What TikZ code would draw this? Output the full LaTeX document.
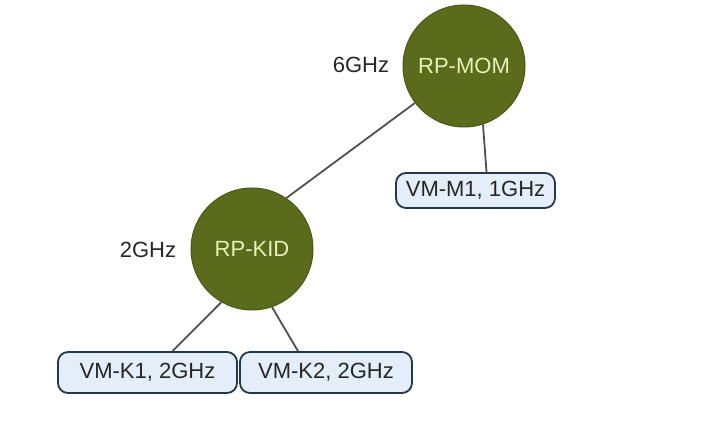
\documentclass[tikz,border=0pt]{standalone}
\usepackage{fontspec}
\setmainfont{Liberation Sans}
\definecolor{olivefill}{HTML}{5A6C1C}
\definecolor{olivedraw}{HTML}{4A5814}
\definecolor{olivetext}{HTML}{E6F0B8}
\definecolor{vmfill}{HTML}{E4EEF8}
\definecolor{vmdraw}{HTML}{22384C}
\definecolor{linkcol}{HTML}{505050}
\begin{document}
\begin{tikzpicture}[x=1pt,y=1pt,
  rpnode/.style={circle,fill=olivefill,draw=olivedraw,line width=1pt,minimum size=122pt,inner sep=0pt,text=olivetext,font=\fontsize{22}{25}\selectfont},
  vmnode/.style={rounded corners=10pt,fill=vmfill,draw=vmdraw,line width=1.8pt,inner sep=0pt,font=\fontsize{22}{25}\selectfont,text=black!85},
  speed/.style={font=\fontsize{22}{25}\selectfont,text=black!85,inner sep=0pt},
  link/.style={draw=linkcol,line width=1.8pt}]
\useasboundingbox (0,0) rectangle (720,430);
\node[rpnode] (mom) at (464,364) {RP-MOM};
\node[rpnode] (kid) at (252,181) {RP-KID};
\node[vmnode,minimum width=159pt,minimum height=35pt] (vmm1) at (475.5,239.5) {VM-M1, 1GHz};
\node[vmnode,minimum width=179pt,minimum height=41pt] (vmk1) at (147.5,57.5) {VM-K1, 2GHz};
\node[vmnode,minimum width=172pt,minimum height=41pt] (vmk2) at (326,57.5) {VM-K2, 2GHz};
\node[speed] (lmom) at (361,365) {6GHz};
\node[speed] (lkid) at (148,180) {2GHz};
\draw[link] (mom.217) -- (kid.56);
\draw[link] (mom.288) -- ([xshift=11pt]vmm1.north);
\draw[link] (kid.240) -- ([xshift=25pt]vmk1.north);
\draw[link] (kid.289) -- ([xshift=-28pt]vmk2.north);
\end{tikzpicture}
\end{document}
